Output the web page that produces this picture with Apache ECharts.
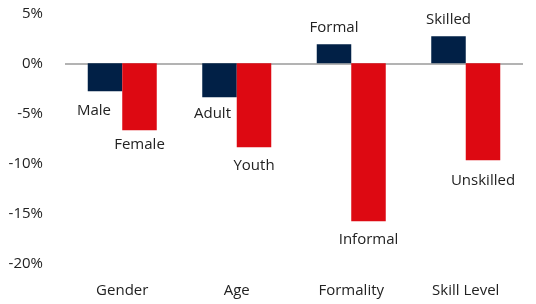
<!DOCTYPE html>
<html>
<head>
<meta charset="utf-8">
<script src="https://cdn.jsdelivr.net/npm/echarts@6/dist/echarts.min.js"></script>
<style>
  html, body { margin: 0; padding: 0; background: #fff; }
  #chart { width: 536px; height: 304px; }
</style>
</head>
<body>
<div id="chart"></div>
<script>
const categories = ["Gender", "Age", "Formality", "Skill Level"];
const firstNames = ["Male", "Adult", "Formal", "Skilled"];
const firstValues = [-2.8, -3.4, 1.9, 2.7];
const secondNames = ["Female", "Youth", "Informal", "Unskilled"];
const secondValues = [-6.7, -8.4, -15.8, -9.7];
const yTicks = { min: -20, max: 5, step: 5 };

// label nudges, kept apart from the data
const firstOffsets = [[-11, 3], [-7, 0], [0, 0], [0, 0]];
const secondOffsets = [[0, -2], [0, 2], [0, 2], [0, 4]];

const font = "'Open Sans', sans-serif";
const textColor = "#222";

function makeData(values, names, offsets) {
  return values.map((v, i) => ({
    value: v,
    label: { formatter: names[i], offset: offsets[i] },
  }));
}

const chart = echarts.init(document.getElementById("chart"));
chart.setOption({
  animation: false,
  grid: { left: 65, right: 13, top: 13.3, bottom: 40.7, containLabel: false },
  xAxis: {
    type: "category",
    data: categories,
    axisLine: { show: false, onZero: false },
    axisTick: { show: false },
    axisLabel: { margin: 20, color: textColor, fontSize: 15, fontFamily: font },
  },
  yAxis: {
    type: "value",
    min: yTicks.min,
    max: yTicks.max,
    interval: yTicks.step,
    splitLine: { show: false },
    axisLine: { show: false },
    axisTick: { show: false },
    axisLabel: {
      formatter: "{value}%",
      margin: 22,
      color: textColor,
      fontSize: 15,
      fontFamily: font,
    },
  },
  series: [
    {
      type: "bar",
      data: makeData(firstValues, firstNames, firstOffsets),
      barWidth: 34.5,
      barGap: "0%",
      itemStyle: { color: "#012046" },
      label: {
        show: true,
        position: "outside",
        distance: 9,
        color: textColor,
        fontSize: 15,
        fontFamily: font,
      },
      markLine: {
        silent: true,
        symbol: "none",
        label: { show: false },
        lineStyle: { color: "#9a9a9a", width: 1.5, type: "solid" },
        data: [{ yAxis: 0 }],
        z: 1,
      },
    },
    {
      type: "bar",
      data: makeData(secondValues, secondNames, secondOffsets),
      barWidth: 34.5,
      barGap: "0%",
      itemStyle: { color: "#dd0912" },
      label: {
        show: true,
        position: "outside",
        distance: 9,
        color: textColor,
        fontSize: 15,
        fontFamily: font,
      },
    },
  ],
});
</script>
</body>
</html>
